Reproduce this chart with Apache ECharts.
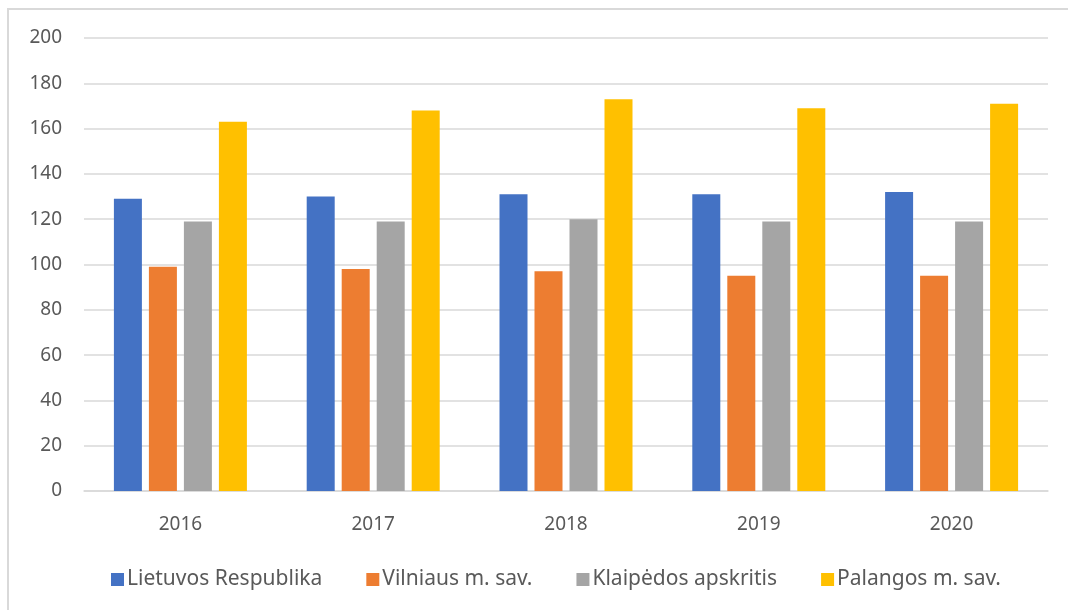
<!DOCTYPE html>
<html>
<head>
<meta charset="utf-8">
<script src="https://cdn.jsdelivr.net/npm/echarts@6/dist/echarts.min.js"></script>
<style>
html,body{margin:0;padding:0;background:#fff;}
#frame{position:absolute;left:7px;top:8px;width:1061px;height:602px;border-top:2px solid #d9d9d9;border-left:2px solid #d9d9d9;box-sizing:border-box;pointer-events:none;}
#chart{position:absolute;left:0;top:0;width:1068px;height:610px;}
</style>
</head>
<body>
<div id="chart"></div>
<div id="frame"></div>
<script>
const categories = ['2016', '2017', '2018', '2019', '2020'];
const seriesNames = ['Lietuvos Respublika', 'Vilniaus m. sav.', 'Klaipėdos apskritis', 'Palangos m. sav.'];
const lietuvos = [129, 130, 131, 131, 132];
const vilniaus = [99, 98, 97, 95, 95];
const klaipedos = [119, 119, 120, 119, 119];
const palangos = [163, 168, 173, 169, 171];
const colors = ['#4472c4', '#ed7d31', '#a5a5a5', '#ffc000'];
const yTicks = { min: 0, max: 200, interval: 20 };

const font = 'Noto Sans';
const data = [lietuvos, vilniaus, klaipedos, palangos];
const chart = echarts.init(document.getElementById('chart'), null, { renderer: 'canvas' });
chart.setOption({
  animation: false,
  color: colors,
  grid: { left: 84, right: 20, top: 38, bottom: 119, containLabel: false },
  legend: {
    top: 564,
    left: 106,
    itemWidth: 13,
    itemHeight: 13,
    itemGap: 44,
    icon: 'rect',
    textStyle: { color: '#595959', fontSize: 21, fontFamily: font, padding: [0, 0, 0, -2] }
  },
  xAxis: {
    type: 'category',
    data: categories,
    axisLine: { lineStyle: { color: '#d9d9d9', width: 1.5 } },
    axisTick: { show: false },
    axisLabel: { color: '#595959', fontSize: 19, fontFamily: font, margin: 24 }
  },
  yAxis: {
    type: 'value',
    min: yTicks.min, max: yTicks.max, interval: yTicks.interval,
    axisLine: { show: false },
    axisTick: { show: false },
    splitLine: { lineStyle: { color: '#d9d9d9', width: 1.5 } },
    axisLabel: { color: '#595959', fontSize: 19, fontFamily: font, margin: 22 }
  },
  series: seriesNames.map((n, i) => ({
    name: n,
    type: 'bar',
    data: data[i],
    barWidth: 28,
    barGap: '25%'
  }))
});
</script>
</body>
</html>
